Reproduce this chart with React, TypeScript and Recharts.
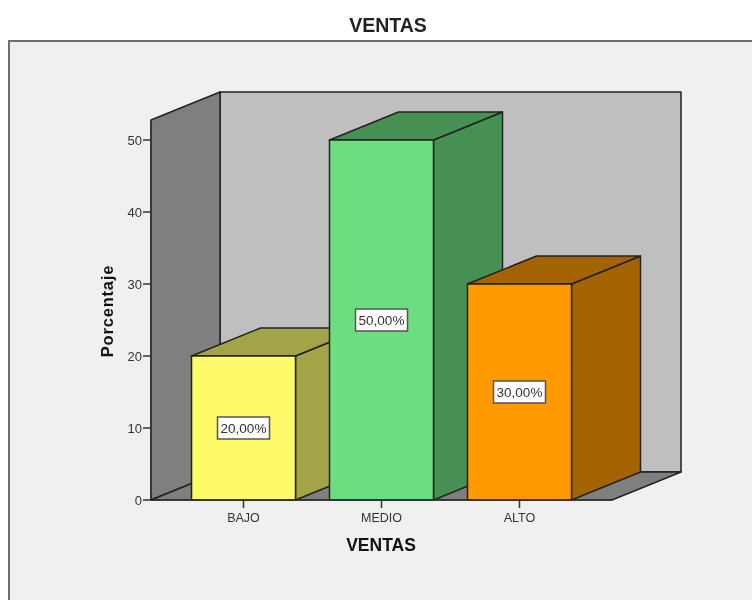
import React from 'react';
import { BarChart, Bar, XAxis, YAxis, ReferenceArea, LabelList } from 'recharts';

const categories = ['BAJO', 'MEDIO', 'ALTO'];
const percentages = [20, 50, 30];
const yTicks = [0, 10, 20, 30, 40, 50];
const frontColors = ['#FDFB6A', '#6CDE80', '#FF9A00'];
const depthColors = ['#A3A348', '#479054', '#A36300'];

const rows = categories.map((name, i) => ({ name, value: percentages[i] }));

const DX = 69;
const DY = 28;
const PAD = 23.5;
const EDGE = '#222';
const FONT = '"Liberation Sans", Arial, sans-serif';

const Walls = (props: any) => {
  const { y, height } = props;
  const x = props.x - PAD;
  const r = props.x + props.width + PAD;
  const b = y + height;
  return (
    <g stroke={EDGE} strokeWidth={1.5} strokeLinejoin="round">
      <polygon points={`${x + DX},${y - DY} ${r + DX},${y - DY} ${r + DX},${b - DY} ${x + DX},${b - DY}`} fill="#BFBFBF" />
      <polygon points={`${x},${y} ${x + DX},${y - DY} ${x + DX},${b - DY} ${x},${b}`} fill="#7F7F7F" />
      <polygon points={`${x},${b} ${x + DX},${b - DY} ${r + DX},${b - DY} ${r},${b}`} fill="#7F7F7F" />
    </g>
  );
};

const Bar3D = (props: any) => {
  const { x, y, width, height, index } = props;
  const r = x + width;
  const b = y + height;
  return (
    <g stroke={EDGE} strokeWidth={1.5} strokeLinejoin="round">
      <polygon points={`${r},${y} ${r + DX},${y - DY} ${r + DX},${b - DY} ${r},${b}`} fill={depthColors[index]} />
      <polygon points={`${x},${y} ${x + DX},${y - DY} ${r + DX},${y - DY} ${r},${y}`} fill={depthColors[index]} />
      <rect x={x} y={y} width={width} height={height} fill={frontColors[index]} />
    </g>
  );
};

const ValueBox = (props: any) => {
  const { x, y, width, height, value } = props;
  const cx = x + width / 2;
  const cy = y + height / 2;
  const text = `${Number(value).toFixed(2).replace('.', ',')}%`;
  return (
    <g>
      <rect x={cx - 26} y={cy - 11} width={52} height={22} fill="#fff" stroke="#555" strokeWidth={1.5} />
      <text x={cx} y={cy + 4.5} textAnchor="middle" fontFamily={FONT} fontSize={13.5} fill="#333">{text}</text>
    </g>
  );
};

export default function App() {
  return (
    <div style={{ position: 'absolute', left: 0, top: 0, width: 752, height: 600, overflow: 'hidden', background: '#fff', filter: 'blur(0.4px)' }}>
      <div style={{ position: 'absolute', left: 8, top: 40, width: 800, height: 600, background: '#F0F0F0', border: '2px solid #707070', boxSizing: 'border-box' }} />
      <div style={{ position: 'absolute', left: 288, width: 200, top: 14, textAlign: 'center', fontFamily: FONT, fontWeight: 'bold', fontSize: 19.5, lineHeight: '23px', color: '#222' }}>VENTAS</div>
      <div style={{ position: 'absolute', left: 0, top: 0 }}>
        <BarChart width={752} height={600} data={rows} margin={{ top: 120, right: 140, bottom: 60, left: 101 }} barSize={104}>
          <ReferenceArea y1={0} y2={52.78} shape={<Walls />} ifOverflow="visible" />
          <XAxis
            dataKey="name"
            height={40}
            padding={{ left: PAD, right: PAD }}
            tickSize={8}
            tickMargin={5}
            stroke="#333"
            strokeWidth={1.5}
            tick={{ fontFamily: FONT, fontSize: 12.5, fill: '#333' }}
            label={{ content: () => <text x={381} y={551} textAnchor="middle" fontFamily={FONT} fontWeight="bold" fontSize={17.5} fill="#111">VENTAS</text> }}
          />
          <YAxis
            width={50}
            domain={[0, 52.78]}
            ticks={yTicks}
            tickSize={8}
            tickMargin={1}
            stroke="#333"
            strokeWidth={1.5}
            tick={{ fontFamily: FONT, fontSize: 13, fill: '#333' }}
            label={{ content: () => <text transform="translate(112.5 311) rotate(-90)" textAnchor="middle" fontFamily={FONT} fontWeight="bold" fontSize={16.5} letterSpacing={0.8} fill="#111">Porcentaje</text> }}
          />
          <Bar dataKey="value" isAnimationActive={false} shape={<Bar3D />}>
            <LabelList dataKey="value" content={<ValueBox />} />
          </Bar>
        </BarChart>
      </div>
    </div>
  );
}
